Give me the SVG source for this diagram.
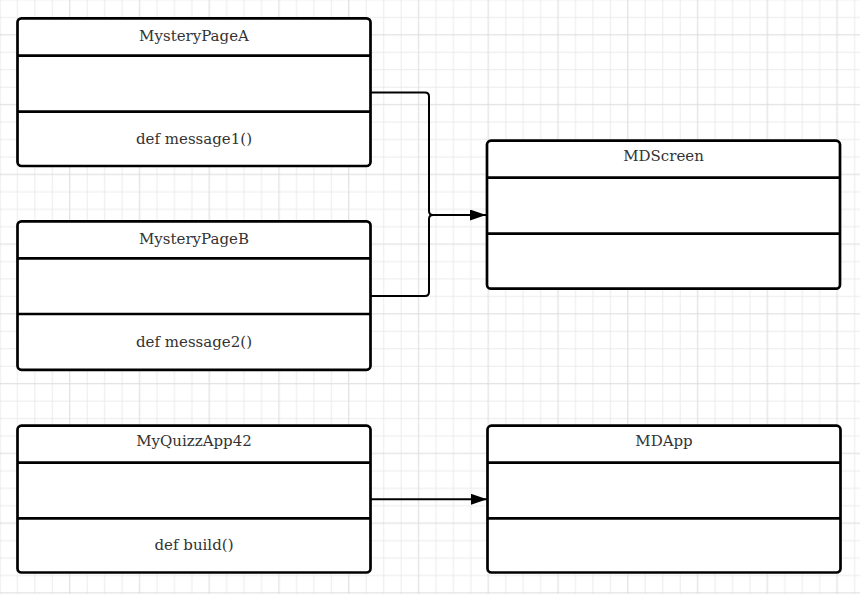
<svg xmlns="http://www.w3.org/2000/svg" width="860" height="594" viewBox="0 0 860 594">
<defs>
<pattern id="grid" patternUnits="userSpaceOnUse" x="-8.72" y="-8.72" width="69.76" height="69.76">
<path d="M26.16 0V69.76M43.6 0V69.76M61.04 0V69.76M0 8.72H69.76M0 26.16H69.76M0 61.04H69.76" stroke="#ebebeb" stroke-width="1" fill="none"/>
<path d="M8.72 0V69.76M0 43.6H69.76" stroke="#dcdcdc" stroke-width="1" fill="none"/>
</pattern>
<marker id="arrow" markerUnits="userSpaceOnUse" markerWidth="16" markerHeight="11" refX="16" refY="5.5" orient="auto">
<path d="M0 0L16 5.5L0 11Z" fill="#000"/>
</marker>
<style>
.box rect{fill:#fff;stroke:#000;stroke-width:2.7}
.box line{stroke:#000;stroke-width:2.7}
text{font-family:"DejaVu Serif","Liberation Serif",serif;font-size:15px;fill:#333;text-anchor:middle}
#connectors path{fill:none;stroke:#000;stroke-width:2}
</style>
</defs>
<rect width="860" height="594" fill="#fff"/>
<rect width="860" height="594" fill="url(#grid)"/>
<g id="connectors">
<path d="M370.5 92.5H425Q429 92.5 429 96.5V211Q429 215 433 215H486" marker-end="url(#arrow)"/>
<path d="M370.5 296H425Q429 296 429 292V219Q429 215 433 215"/>
<path d="M370.5 499.3H487" marker-end="url(#arrow)"/>
</g>
<g id="MysteryPageA" class="box">
<rect x="17.5" y="18.3" width="353" height="147.7" rx="4"/>
<line x1="17.5" y1="55.7" x2="370.5" y2="55.7"/>
<line x1="17.5" y1="111.7" x2="370.5" y2="111.7"/>
<text x="194" y="41">MysteryPageA</text>
<text x="194" y="143.5">def message1()</text>
</g>
<g id="MysteryPageB" class="box">
<rect x="17.5" y="221.3" width="353" height="148.5" rx="4"/>
<line x1="17.5" y1="258.3" x2="370.5" y2="258.3"/>
<line x1="17.5" y1="314" x2="370.5" y2="314"/>
<text x="194" y="244">MysteryPageB</text>
<text x="194" y="346.5">def message2()</text>
</g>
<g id="MyQuizzApp42" class="box">
<rect x="17.5" y="425.7" width="353" height="146.8" rx="4"/>
<line x1="17.5" y1="462.7" x2="370.5" y2="462.7"/>
<line x1="17.5" y1="518.3" x2="370.5" y2="518.3"/>
<text x="194" y="446">MyQuizzApp42</text>
<text x="194" y="550">def build()</text>
</g>
<g id="MDScreen" class="box">
<rect x="487" y="140.7" width="353" height="148" rx="4"/>
<line x1="487" y1="177.7" x2="840" y2="177.7"/>
<line x1="487" y1="233.7" x2="840" y2="233.7"/>
<text x="663.5" y="161">MDScreen</text>
</g>
<g id="MDApp" class="box">
<rect x="487.5" y="425.7" width="353" height="146.8" rx="4"/>
<line x1="487.5" y1="462.7" x2="840.5" y2="462.7"/>
<line x1="487.5" y1="518.3" x2="840.5" y2="518.3"/>
<text x="664" y="446">MDApp</text>
</g>
</svg>
